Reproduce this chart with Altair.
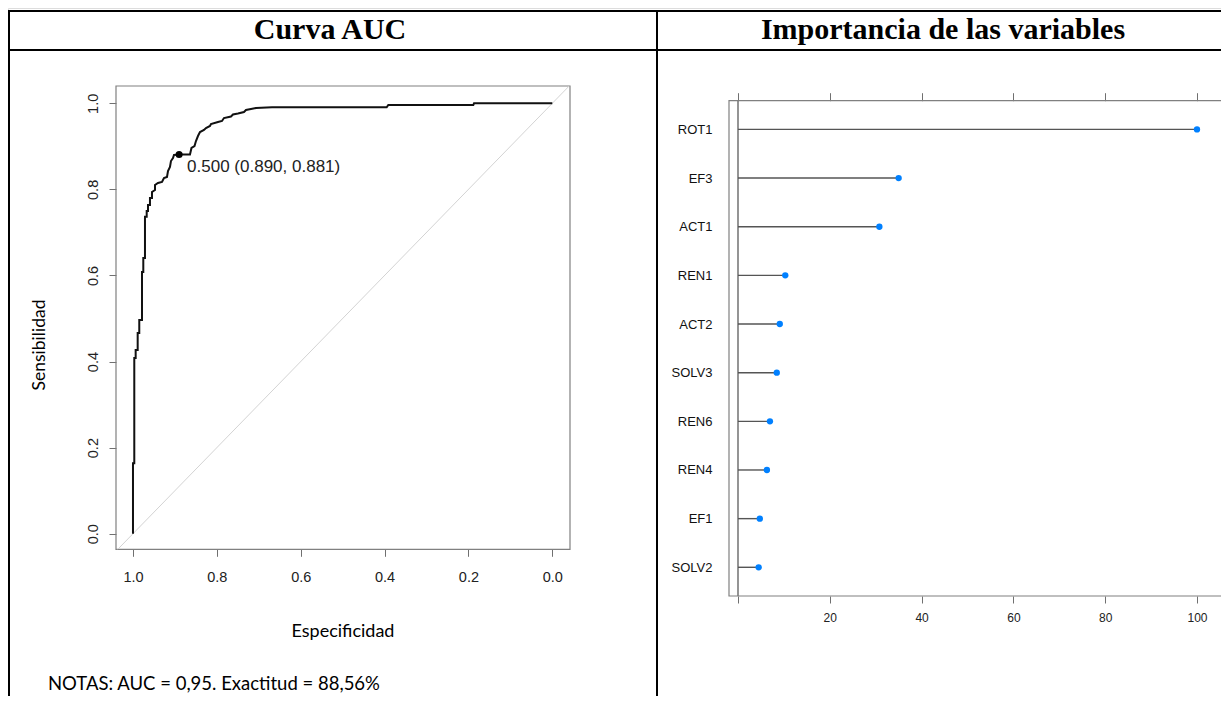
import altair as alt
import pandas as pd

W, H = 1213, 688

# ---------------- data ----------------
roc_spec = [1.0, 1.0, 0.9969, 0.9969, 0.9936, 0.9936, 0.9888, 0.9888, 0.985, 0.985,
            0.9785, 0.9785, 0.9754, 0.9754, 0.9714, 0.9714, 0.9673, 0.9673, 0.9642, 0.9642,
            0.9595, 0.9595, 0.9547, 0.9547, 0.9475, 0.9475, 0.9404, 0.9308, 0.9261, 0.9189,
            0.9165, 0.9118, 0.9094, 0.9046, 0.9022, 0.890, 0.8641, 0.8605, 0.8533, 0.8498,
            0.845, 0.8402, 0.8307, 0.8259, 0.8164, 0.814, 0.7973, 0.7877, 0.783, 0.7663,
            0.7615, 0.7496, 0.7353, 0.7305, 0.7186, 0.7067, 0.6685, 0.395, 0.3911, 0.1884,
            0.1867, 0.0]
roc_sens = [0.0, 0.1636, 0.1636, 0.4082, 0.4082, 0.4268, 0.4268, 0.4663, 0.4663, 0.4965,
            0.4965, 0.608, 0.608, 0.6406, 0.6406, 0.7365, 0.7365, 0.7498, 0.7498, 0.7637,
            0.7637, 0.78, 0.78, 0.7939, 0.7986, 0.8102, 0.8148, 0.8172, 0.8264, 0.8288,
            0.8427, 0.852, 0.8659, 0.8729, 0.8799, 0.881, 0.881, 0.8962, 0.9008, 0.9124,
            0.924, 0.9333, 0.938, 0.9426, 0.9473, 0.9519, 0.9566, 0.9589, 0.9658, 0.9693,
            0.974, 0.9763, 0.9798, 0.9844, 0.9868, 0.9891, 0.9907, 0.9907, 0.996, 0.996,
            1.0, 1.0]

cut_spec = [0.890]
cut_sens = [0.881]
cut_label = ["0.500 (0.890, 0.881)"]

diag_spec = [1.0362, -0.0402]
diag_sens = [-0.0362, 1.0402]

spec_ticks = [1.0, 0.8, 0.6, 0.4, 0.2, 0.0]
sens_ticks = [0.0, 0.2, 0.4, 0.6, 0.8, 1.0]

var_names = ["ROT1", "EF3", "ACT1", "REN1", "ACT2", "SOLV3", "REN6", "REN4", "EF1", "SOLV2"]
var_importance = [100.0, 35.0, 30.8, 10.3, 9.1, 8.45, 6.96, 6.3, 4.75, 4.5]
imp_ticks = [0, 20, 40, 60, 80, 100]

titles = ["Curva AUC", "Importancia de las variables"]
x_title = "Especificidad"
y_title = "Sensibilidad"
note_text = "NOTAS: AUC = 0,95. Exactitud = 88,56%"

# ---------------- frames ----------------
roc_df = pd.DataFrame({"idx": list(range(len(roc_spec))), "spec": roc_spec, "sens": roc_sens})
cut_df = pd.DataFrame({"spec": cut_spec, "sens": cut_sens, "label": cut_label})
diag_df = pd.DataFrame({"idx": [0, 1], "spec": diag_spec, "sens": diag_sens})
var_pos = list(range(len(var_names)))
imp_df = pd.DataFrame({"var": var_names, "pos": var_pos, "imp": var_importance,
                       "zero": [0] * len(var_names)})
one = pd.DataFrame({"k": [0]})
name_expr = "[" + ",".join("'%s'" % v for v in var_names) + "][datum.value]"

SANS = "Liberation Sans"
NOTE_FONT = "Lato"

# ---------------- ROC panel ----------------
x_roc = alt.Scale(domain=[-0.0422, 1.0405], reverse=True, range=[108, 562], nice=False, zero=False)
y_roc = alt.Scale(domain=[-0.0362, 1.0402], range=[541.3, 78], nice=False, zero=False)

roc_box = alt.Chart(one).mark_rect(fill=None, stroke="#808080", strokeWidth=1.2).encode(
    x=alt.value(108), x2=alt.value(562), y=alt.value(78), y2=alt.value(541.3))

diag = alt.Chart(diag_df).mark_line(color="#d3d3d3", strokeWidth=1).encode(
    x=alt.X("spec:Q", scale=x_roc, title=None),
    y=alt.Y("sens:Q", scale=y_roc, title=None),
    order="idx:O")

roc_line = alt.Chart(roc_df).mark_line(color="#111111", strokeWidth=2).encode(
    x=alt.X("spec:Q", scale=x_roc, title=None,
            axis=alt.Axis(orient="bottom", offset=-146.7, values=spec_ticks, format=".1f",
                          tickSize=7, tickColor="#707070", domain=False, grid=False,
                          labelFont=SANS, labelFontSize=14.5, labelColor="#222222",
                          labelPadding=14, labelFlush=False, labelOverlap=False)),
    y=alt.Y("sens:Q", scale=y_roc, title=None,
            axis=alt.Axis(orient="left", offset=-108, values=sens_ticks, format=".1f",
                          tickSize=7, tickColor="#707070", domain=False, grid=False,
                          labelFont=SANS, labelFontSize=14.5, labelColor="#222222",
                          labelAngle=270, labelAlign="center", labelBaseline="bottom",
                          labelPadding=9, labelFlush=False, labelOverlap=False)),
    order="idx:Q")

cut_pt = alt.Chart(cut_df).mark_point(filled=True, color="#000000", size=50, opacity=1).encode(
    x=alt.X("spec:Q", scale=x_roc, title=None),
    y=alt.Y("sens:Q", scale=y_roc, title=None))

cut_txt = alt.Chart(cut_df).mark_text(align="left", baseline="middle", dx=8, dy=12,
                                      font=SANS, fontSize=17, color="#222222").encode(
    x=alt.X("spec:Q", scale=x_roc, title=None),
    y=alt.Y("sens:Q", scale=y_roc, title=None),
    text="label:N")

roc_panel = alt.layer(diag, roc_line, cut_pt, cut_txt)

# ---------------- importance panel ----------------
x_imp = alt.Scale(domain=[-1.96, 106.32], range=[721, 1218], nice=False, zero=False)
y_imp = alt.Scale(domain=[-0.59, len(var_names) - 1 + 0.59], range=[92.7, 588],
                  nice=False, zero=False)

imp_box = alt.Chart(one).mark_rect(fill=None, stroke="#808080", strokeWidth=1.2).encode(
    x=alt.value(721), x2=alt.value(1218), y=alt.value(92.7), y2=alt.value(588))

zero_rule = alt.Chart(imp_df.head(1)).mark_rule(color="#7a7a7a", strokeWidth=1.6).encode(
    x=alt.X("zero:Q", scale=x_imp, title=None),
    y=alt.value(92.7), y2=alt.value(588))

segs = alt.Chart(imp_df).mark_rule(color="#555555", strokeWidth=1.4).encode(
    x=alt.X("zero:Q", scale=x_imp, title=None),
    x2="imp:Q",
    y=alt.Y("pos:Q", scale=y_imp, title=None))

dots = alt.Chart(imp_df).mark_circle(color="#0080ff", size=40, opacity=1).encode(
    x=alt.X("imp:Q", scale=x_imp, title=None,
            axis=alt.Axis(orient="bottom", offset=-100, values=imp_ticks,
                          labelExpr="datum.value == 0 ? '' : datum.label",
                          tickSize=7, tickColor="#707070", domain=False, grid=False,
                          labelFont=SANS, labelFontSize=12, labelColor="#222222",
                          labelPadding=9, labelFlush=False, labelOverlap=False)),
    y=alt.Y("pos:Q", scale=y_imp, title=None,
            axis=alt.Axis(orient="left", offset=-721, values=var_pos, labelExpr=name_expr,
                          ticks=False, domain=False, grid=False,
                          labelFont=SANS, labelFontSize=13, labelColor="#111111",
                          labelPadding=17, labelFlush=False, labelOverlap=False)))

imp_panel = alt.layer(zero_rule, segs, dots)

top_ticks = alt.Chart(imp_df).mark_point(opacity=0).encode(
    x=alt.X("imp:Q", scale=x_imp, title=None,
            axis=alt.Axis(orient="top", offset=-92.7, values=imp_ticks, labels=False,
                          tickSize=8, tickColor="#707070", domain=False, grid=False)))

# ---------------- table & texts ----------------
def hline(y, x1, x2):
    return alt.Chart(one).mark_rule(color="#000000", strokeWidth=2).encode(
        x=alt.value(x1), x2=alt.value(x2), y=alt.value(y))

def vline(x, y1, y2):
    return alt.Chart(one).mark_rule(color="#000000", strokeWidth=2).encode(
        x=alt.value(x), y=alt.value(y1), y2=alt.value(y2))

table = [hline(3, 0, W), hline(42, 0, W), vline(1, 3, H), vline(649, 3, H)]

def label(txt, x, y, font, size, bold=False, angle=0, align="center", color="#000000"):
    return alt.Chart(one).mark_text(text=txt, font=font, fontSize=size,
                                    fontWeight="bold" if bold else "normal",
                                    angle=angle, align=align, baseline="middle",
                                    color=color).encode(x=alt.value(x), y=alt.value(y))

texts = [
    label(titles[0], 322, 22, "Liberation Serif", 30, bold=True),
    label(titles[1], 935, 22, "Liberation Serif", 30, bold=True),
    label(y_title, 32, 337, NOTE_FONT, 17.5, angle=270),
    label(x_title, 335, 624, NOTE_FONT, 18),
    label(note_text, 40, 676, NOTE_FONT, 18.5, align="left"),
]

chart = alt.layer(
    *table, roc_box, imp_box, roc_panel, imp_panel, top_ticks, *texts
).resolve_scale(x="independent", y="independent").properties(
    width=W, height=H, autosize=alt.AutoSizeParams(type="none"), padding=0
).configure_view(stroke=None).configure(background="white")

chart.save("out.html", embed_options={"renderer": "svg", "actions": False})
